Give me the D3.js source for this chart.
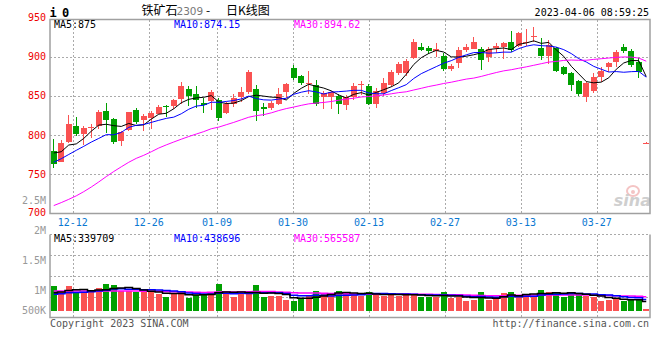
<!DOCTYPE html>
<html><head><meta charset="utf-8">
<script src="https://cdn.jsdelivr.net/npm/d3@7/dist/d3.min.js"></script>
<style>
html,body{margin:0;padding:0;background:#fff;}
svg{display:block;}
text{font-family:"DejaVu Sans Mono",monospace;font-size:10px;}
</style></head><body>
<svg id="chart" width="660" height="360"></svg>
<script>
// ---------------- data ----------------
const dates = [
"2022-12-07","2022-12-08","2022-12-09","2022-12-12","2022-12-13","2022-12-14","2022-12-15","2022-12-16","2022-12-19","2022-12-20",
"2022-12-21","2022-12-22","2022-12-23","2022-12-26","2022-12-27","2022-12-28","2022-12-29","2022-12-30","2023-01-03","2023-01-04",
"2023-01-05","2023-01-06","2023-01-09","2023-01-10","2023-01-11","2023-01-12","2023-01-13","2023-01-16","2023-01-17","2023-01-18",
"2023-01-19","2023-01-20","2023-01-30","2023-01-31","2023-02-01","2023-02-02","2023-02-03","2023-02-06","2023-02-07","2023-02-08",
"2023-02-09","2023-02-10","2023-02-13","2023-02-14","2023-02-15","2023-02-16","2023-02-17","2023-02-20","2023-02-21","2023-02-22",
"2023-02-23","2023-02-24","2023-02-27","2023-02-28","2023-03-01","2023-03-02","2023-03-03","2023-03-06","2023-03-07","2023-03-08",
"2023-03-09","2023-03-10","2023-03-13","2023-03-14","2023-03-15","2023-03-16","2023-03-17","2023-03-20","2023-03-21","2023-03-22",
"2023-03-23","2023-03-24","2023-03-27","2023-03-28","2023-03-29","2023-03-30","2023-03-31","2023-04-03","2023-04-04","2023-04-06"];
const opens = [780,766,791,811,801,808.5,811,831,821,793, 806,831.5,819.5,822,827,836.6,837,845.6,858.3,852,
 841,844,844.7,828.4,839.6,849,855,858.7,836,834.8, 840.4,854.5,885.9,875.3,865.1,863.8,848.9,848.9,849.8,838.3,
 848.9,863.8,862.5,839.6,853.2,863.8,878.8,878.8,897.9,912.7, 911.4,906.8,900.8,883.9,891.5,909.4,910.7,909.8,899.2,910.7,
 911.9,919.1,913.6,917.4,926,910.7,900.8,910.7,886.4,878.8, 868.9,847.6,856.2,874.4,886.4,893.6,911.9,907.6,893.6,789];
const highs = [794.5,793,826,822.6,811,813.6,832,841,822,805, 829.5,834,826.7,831,838,838,846,867.6,862,862,
 847,857,846.8,842.4,852.4,861,883,863.8,840.4,843, 859.5,866,889.3,876.6,881.7,870.2,856.2,856,852,851,
 866.8,869.3,865,859.6,872.8,883,893.6,897,922.2,917, 914,917,904.3,890,912.7,916.2,924.7,912.7,912.7,917,
 919.1,932.8,931,935,937.5,923.4,921.3,912.7,888,880.8, 870.2,867.3,878.8,887.2,893.6,908.5,916.2,909.5,897.9,790.5];
const lows = [758,765,790,798.7,787,795.7,807,802,789,786, 805,814,805,807,826.4,822.6,833,839,837,835,
 828,832,818.4,826.4,836,842.4,852.4,818,824.6,832, 838.3,846.8,870.2,863.8,852.4,837,833.2,833,826.8,831.9,
 844.7,851,838,834,849.8,861.6,876.6,875,896.6,907.6, 903,900,882,882,885.1,906.3,909.4,883,893.6,904.3,
 897,906.3,912.7,913,919,895.7,890,881,876.6,856.2, 850.2,842.5,854,868,880.8,887.2,904.3,887,873.1,788.8];
const closes = [764,790,814,801,809,810,829,819.5,792,804, 829,816,824,828,835.7,834.8,844.7,862.5,849.8,844.7,
 839,855.3,822,839.6,847.6,855,880.8,831,833.6,841.2, 852.7,865,873.1,866,866.8,839.6,854,855.3,839.6,848.1,
 862.5,865,839.6,856.2,866,880.8,890.2,894.4,918.7,909.4, 907.6,909.8,883.9,888,908.5,912.7,919.1,895.8,909.8,913.6,
 917,908.5,929.8,918.7,927,900.8,914.9,881.7,877.5,863.8, 852,866,873.6,882.1,891.5,906.3,906.3,889.4,880.8,790];
// volume (lots)
const volumes = [1000000,776000,1000000,760000,696000,748000,920000,1068000,1028000,800000,
 800000,760000,760000,760000,668000,560000,696000,748000,520000,616000,
 616000,748000,1068000,696000,560000,668000,668000,1028000,560000,600000,
 600000,428000,388000,496000,588000,788000,696000,696000,788000,696000,
 668000,600000,748000,628000,600000,668000,600000,696000,628000,560000,
 560000,560000,748000,520000,536000,388000,428000,748000,428000,496000,
 708000,748000,600000,668000,600000,828000,748000,748000,560000,708000,
 668000,600000,560000,400000,428000,520000,400000,428000,428000,68000];
// estimated closes / volumes of the 29 sessions before the first visible one (needed by the moving averages)
const priorCloses = [676,689,667,649,633,634,615,597,624,655,666,707,693,692,715,734,755,748,749,746,
 745,760,748,758,756,782,771,794,774];
const priorVolumes = [880000,920000,810000,760000,950000,870000,830000,900000,790000,860000,
 840000,910000,780000,820000,890000,850000,800000,870000,830000,920000,
 560000,620000,590000,610000,580000,640000,700000,610000,650000];
const priceTicks = [950,900,850,800,750,700];
const dateTicks = ["2022-12-12","2022-12-26","2023-01-09","2023-01-30","2023-02-13","2023-02-27","2023-03-13","2023-03-27"];
const volTicks = [2500000,2000000,1500000,1000000,500000];
const volTickLabels = ["2.5M","2M","1.5M","1M","500K"];
const maPeriods = [5,10,30];
const priceMaTexts = ["MA5:875","MA10:874.15","MA30:894.62"];
const volMaTexts = ["MA5:339709","MA10:438696","MA30:565587"];
const titleParts = ["铁矿石","2309","-","日K线图"];
const codeText = "i 0";
const stampText = "2023-04-06 08:59:25";
const copyText = "Copyright 2023 SINA.COM";
const urlText = "http://finance.sina.com.cn";

// ---------------- layout ----------------
const L = 50, R = 650;
const mainTop = 19.5, mainBot = 213.5;
const volTop = 234.5, volBot = 317.5;
const RED = "#fa5252", GREEN = "#00a000", GRID = "#aaa", BORDER = "#a0a0a0";
const maColors = ["#000000","#0000ff","#ff00ff"];

const svg = d3.select("#chart");
svg.append("rect").attr("width",660).attr("height",360).attr("fill","#fff");

const x = d3.scaleBand().domain(dates).range([L, R]).padding(0);
const step = x.step();
const cx = d => x(d) + step / 2;
const gx = d3.scaleLinear().domain([0, dates.length - 1]).range([L, R]); // date grid positions
const y = d3.scaleLinear().domain([700, 950]).range([213.3, 17.5]);
const vy = d3.scaleLinear().domain([0, 1000000]).range([310.7, 285.7]);
const vLabelY = d3.scaleLinear().domain([1000000, 2500000]).range([290.7, 200.7]);

const data = dates.map((d, i) => ({d, i, o: opens[i], h: highs[i], l: lows[i], c: closes[i], v: volumes[i]}));

function movingAvg(prior, vals, n) {
  const all = prior.concat(vals), off = prior.length;
  return vals.map((_, i) => d3.mean(all.slice(off + i - n + 1, off + i + 1)));
}

// clip paths
const defs = svg.append("defs");
defs.append("clipPath").attr("id","clipMain").append("rect").attr("x",L).attr("y",mainTop).attr("width",R-L).attr("height",mainBot-mainTop);
defs.append("clipPath").attr("id","clipVol").append("rect").attr("x",L).attr("y",volTop).attr("width",R-L).attr("height",volBot-volTop);

// ---------------- grids ----------------
const grid = svg.append("g").attr("stroke", GRID).attr("stroke-width",1).attr("stroke-dasharray","2,2").attr("shape-rendering","crispEdges");
priceTicks.filter(t => t > 700 && t < 950).forEach(t => {
  const yy = Math.round(y(t)) + 0.5;
  grid.append("line").attr("x1",L).attr("x2",R).attr("y1",yy).attr("y2",yy);
});
[1,2,3].forEach(k => {
  const yy = Math.round(volTop + k*(volBot-volTop)/4) + 0.5;
  grid.append("line").attr("x1",L).attr("x2",R).attr("y1",yy).attr("y2",yy);
});
grid.append("line").attr("x1",L).attr("x2",R).attr("y1",volTop).attr("y2",volTop);
dateTicks.forEach(d => {
  const xx = Math.round(gx(dates.indexOf(d))) + 0.5;
  grid.append("line").attr("x1",xx).attr("x2",xx).attr("y1",mainTop).attr("y2",mainBot);
  grid.append("line").attr("x1",xx).attr("x2",xx).attr("y1",volTop).attr("y2",volBot);
});

// watermark
const wm = svg.append("g");
wm.append("ellipse").attr("cx",633).attr("cy",191).attr("rx",6).attr("ry",5).attr("fill","none").attr("stroke","#f4c4c4").attr("stroke-width",2);
wm.append("circle").attr("cx",633).attr("cy",192).attr("r",2).attr("fill","#f4c4c4");
wm.append("text").attr("x",651).attr("y",206).attr("text-anchor","end")
  .style("font-family","'DejaVu Sans',sans-serif").style("font-size","16px").style("font-style","italic").style("font-weight","bold")
  .attr("fill","#cfcfcf").text("sina");

// ---------------- candles ----------------
const cg = svg.append("g").attr("clip-path","url(#clipMain)").attr("shape-rendering","crispEdges");
const col = d => d.c >= d.o ? RED : GREEN;
cg.selectAll("line.wick").data(data).join("line").attr("class","wick")
  .attr("x1", d => Math.floor(cx(d.d)) + 0.5).attr("x2", d => Math.floor(cx(d.d)) + 0.5)
  .attr("y1", d => y(d.h)).attr("y2", d => y(d.l)).attr("stroke", col).attr("stroke-width",1);
cg.selectAll("rect.body").data(data).join("rect").attr("class","body")
  .attr("x", d => Math.round(cx(d.d) - step*0.4))
  .attr("width", Math.round(step*0.8))
  .attr("y", d => Math.round(y(Math.max(d.o, d.c))))
  .attr("height", d => Math.max(1, Math.round(Math.abs(y(d.o) - y(d.c)))))
  .attr("fill", col);

// price moving averages
const mg = svg.append("g").attr("clip-path","url(#clipMain)");
maPeriods.forEach((n, k) => {
  const ma = movingAvg(priorCloses, closes, n);
  const line = d3.line().x((v, i) => cx(dates[i])).y(v => y(v));
  mg.append("path").attr("d", line(ma)).attr("fill","none").attr("stroke", maColors[k]).attr("stroke-width",1);
});

// ---------------- volume ----------------
const vg = svg.append("g").attr("clip-path","url(#clipVol)").attr("shape-rendering","crispEdges");
vg.selectAll("rect.vol").data(data).join("rect").attr("class","vol")
  .attr("x", d => Math.round(cx(d.d) - step*0.4))
  .attr("width", Math.round(step*0.8))
  .attr("y", d => Math.round(vy(d.v)))
  .attr("height", d => Math.max(1, Math.round(vy(0)) - Math.round(vy(d.v))))
  .attr("fill", col);
const vmg = svg.append("g").attr("clip-path","url(#clipVol)");
[2,1,0].forEach(k => {
  const ma = movingAvg(priorVolumes, volumes, maPeriods[k]);
  const line = d3.line().x((v, i) => cx(dates[i])).y(v => vy(v)).curve(d3.curveStep);
  vmg.append("path").attr("d", line(ma)).attr("fill","none").attr("stroke", maColors[k]).attr("stroke-width",1.5);
});

// ---------------- borders ----------------
const bg = svg.append("g").attr("stroke", BORDER).attr("stroke-width",1.5).attr("fill","none");
bg.append("path").attr("d", `M${L},${mainTop}H${R}V${mainBot}H${L}Z`);
bg.append("path").attr("d", `M${L},${volTop}V${volBot}H${R}V${volTop}`);

// ---------------- text ----------------
const price = svg.append("g").attr("fill","#ee0000").attr("text-anchor","end");
priceTicks.forEach(t => {
  price.append("text").attr("x",46).attr("y", Math.min(y(t), 212.7)).attr("dy","0.36em").text(t);
});
const vl = svg.append("g").attr("fill","#999").attr("text-anchor","end");
volTicks.forEach((v, i) => {
  vl.append("text").attr("x",46).attr("y", Math.min(vLabelY(v), 310.7)).attr("dy","0.36em").text(volTickLabels[i]);
});
const xl = svg.append("g").attr("fill","#0a78d2").attr("text-anchor","middle");
dateTicks.forEach(d => {
  xl.append("text").attr("x", gx(dates.indexOf(d))).attr("y", 225.5).text(d.slice(5));
});
[54, 174, 294].forEach((xx, k) => {
  svg.append("text").attr("x", xx).attr("y", 27.8).attr("fill", maColors[k]).text(priceMaTexts[k]);
  svg.append("text").attr("x", xx).attr("y", 242).attr("fill", maColors[k]).text(volMaTexts[k]);
});
svg.append("text").attr("x", 649).attr("y", 16).attr("text-anchor","end").attr("fill","#000").text(stampText);
svg.append("text").attr("x", 49.5).attr("y", 16.5).style("font-size","12px").style("font-weight","bold").style("letter-spacing","-1px").attr("fill","#000").text(codeText);
const tf = "'Noto Sans CJK SC',sans-serif";
svg.append("text").attr("x",141.5).attr("y",15).style("font-family",tf).style("font-size","12px").attr("fill","#000").text(titleParts[0]);
svg.append("text").attr("x",176.5).attr("y",15).style("font-family","'DejaVu Sans',sans-serif").style("font-size","10.5px").attr("fill","#777").text(titleParts[1]);
svg.append("text").attr("x",206).attr("y",15).style("font-family",tf).style("font-size","12px").attr("fill","#000").text(titleParts[2]);
svg.append("text").attr("x",226).attr("y",15).style("font-family",tf).style("font-size","12px").attr("fill","#000").text(titleParts[3]);
svg.append("text").attr("x", 50).attr("y", 327).attr("fill","#555").text(copyText);
svg.append("text").attr("x", 649).attr("y", 327).attr("text-anchor","end").attr("fill","#555").text(urlText);
</script>
</body></html>
